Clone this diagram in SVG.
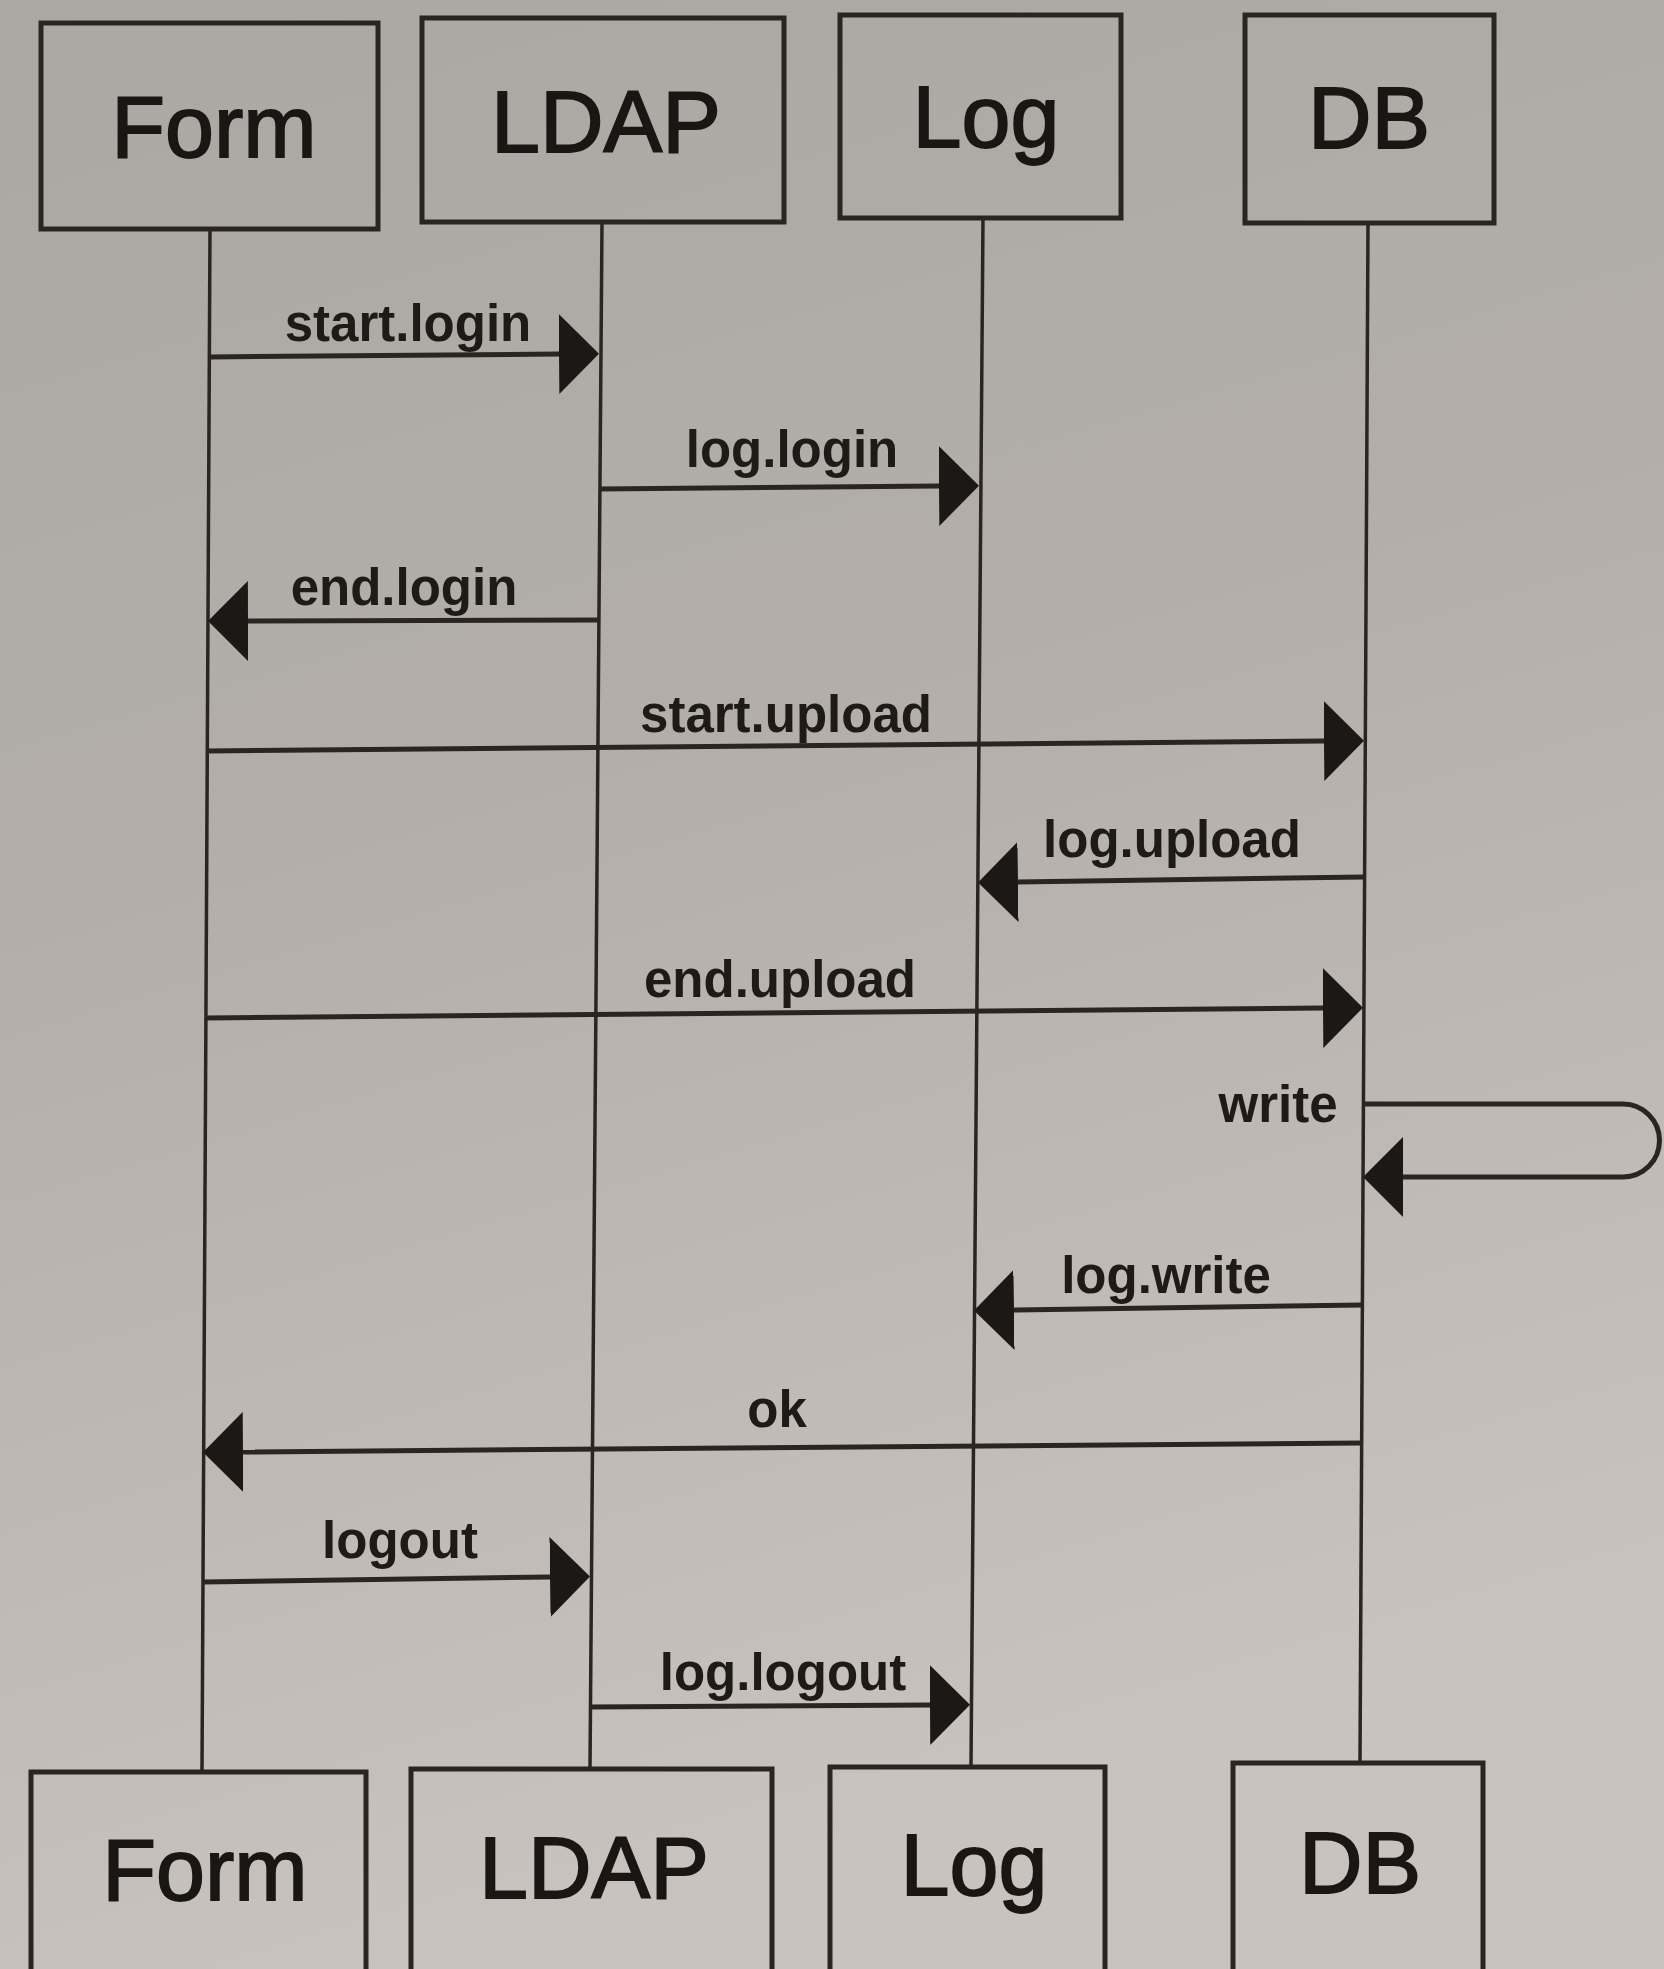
<svg xmlns="http://www.w3.org/2000/svg" width="1664" height="1969" viewBox="0 0 1664 1969">
<defs>
<linearGradient id="bg" x1="0" y1="0" x2="0.25" y2="1">
<stop offset="0" stop-color="#aaa8a3"/>
<stop offset="0.45" stop-color="#b3aea9"/>
<stop offset="1" stop-color="#c8c3be"/>
</linearGradient>
<marker id="ah" markerUnits="userSpaceOnUse" markerWidth="40" markerHeight="80" viewBox="0 0 40 80" refX="0" refY="40" orient="auto">
<path d="M0,0 L40,40 L0,80 Z" fill="#1c1816"/>
</marker>
<style>
.box{fill:none;stroke:#2a2522;stroke-width:5}
.life{stroke:#2a2522;stroke-width:3.5;fill:none}
.msg{stroke:#2a2522;stroke-width:5;fill:none;marker-end:url(#ah)}
.name{font-family:"Liberation Sans",Arial,sans-serif;font-size:88px;fill:#1a1614;stroke:#1a1614;stroke-width:1.8;text-anchor:middle}
.lbl{font-family:"Liberation Sans",Arial,sans-serif;font-size:51px;font-weight:bold;fill:#1e1a17;text-anchor:middle}
</style>
</defs>
<rect x="0" y="0" width="1664" height="1969" fill="url(#bg)"/>

<g id="lifelines">
<line class="life" x1="210" y1="229" x2="202" y2="1772"/>
<line class="life" x1="602" y1="222" x2="590" y2="1769"/>
<line class="life" x1="983" y1="218" x2="971" y2="1767"/>
<line class="life" x1="1368" y1="223" x2="1360" y2="1763"/>
</g>

<g id="node-form-top"><rect class="box" x="41" y="23" width="337" height="206"/><text class="name" x="214" y="157">Form</text></g>
<g id="node-ldap-top"><rect class="box" x="422" y="18" width="362" height="204"/><text class="name" x="606" y="152">LDAP</text></g>
<g id="node-log-top"><rect class="box" x="840" y="15" width="281" height="203"/><text class="name" x="986" y="147">Log</text></g>
<g id="node-db-top"><rect class="box" x="1245" y="15" width="249" height="208"/><text class="name" x="1369" y="148">DB</text></g>

<g id="node-form-bottom"><rect class="box" x="31" y="1772" width="335" height="220"/><text class="name" x="205" y="1900">Form</text></g>
<g id="node-ldap-bottom"><rect class="box" x="411" y="1769" width="361" height="220"/><text class="name" x="594" y="1898">LDAP</text></g>
<g id="node-log-bottom"><rect class="box" x="830" y="1767" width="275" height="220"/><text class="name" x="974" y="1895">Log</text></g>
<g id="node-db-bottom"><rect class="box" x="1233" y="1763" width="250" height="220"/><text class="name" x="1360" y="1893">DB</text></g>

<g id="connectors">
<line class="msg" x1="210" y1="357" x2="559" y2="354"/>
<text class="lbl" x="408" y="341">start.login</text>
<line class="msg" x1="600" y1="489" x2="939" y2="486"/>
<text class="lbl" x="792" y="467">log.login</text>
<line class="msg" x1="599" y1="620" x2="248" y2="621"/>
<text class="lbl" x="404" y="605">end.login</text>
<line class="msg" x1="207" y1="751" x2="1324" y2="741"/>
<text class="lbl" x="786" y="732">start.upload</text>
<line class="msg" x1="1364" y1="877" x2="1018" y2="882"/>
<text class="lbl" x="1172" y="857">log.upload</text>
<line class="msg" x1="206" y1="1018" x2="1323" y2="1008"/>
<text class="lbl" x="780" y="997">end.upload</text>
<path class="msg" d="M1363,1104 L1623,1104 A36.5,36.5 0 0 1 1623,1177 L1403,1177"/>
<text class="lbl" x="1278" y="1122">write</text>
<line class="msg" x1="1362" y1="1305" x2="1014" y2="1310"/>
<text class="lbl" x="1166" y="1293">log.write</text>
<line class="msg" x1="1361" y1="1443" x2="243" y2="1452"/>
<text class="lbl" x="777" y="1427">ok</text>
<line class="msg" x1="203" y1="1582" x2="550" y2="1577"/>
<text class="lbl" x="400" y="1558">logout</text>
<line class="msg" x1="590" y1="1707" x2="930" y2="1705"/>
<text class="lbl" x="783" y="1690">log.logout</text>
</g>
</svg>
